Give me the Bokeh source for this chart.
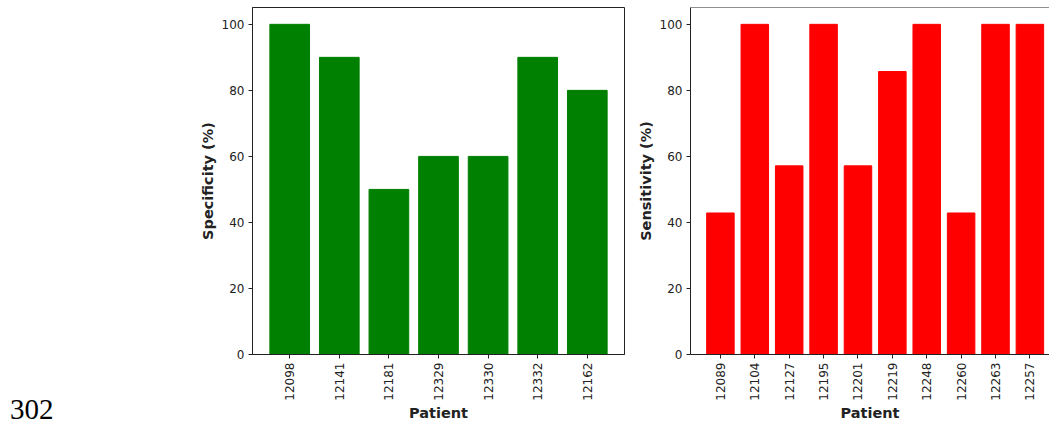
import math

from bokeh.plotting import figure
from bokeh.layouts import row
from bokeh.models import Range1d, FixedTicker, Span, Div
from bokeh.embed import file_html
from bokeh.resources import INLINE

# Per-patient results
spec_patients = ["12098", "12141", "12181", "12329", "12330", "12332", "12162"]
specificity = [100, 90, 50, 60, 60, 90, 80]

sens_patients = ["12089", "12104", "12127", "12195", "12201", "12219",
                 "12248", "12260", "12263", "12257"]
sensitivity = [42.86, 100, 57.14, 100, 57.14, 85.71, 100, 42.86, 100, 100]

y_ticks = [0, 20, 40, 60, 80, 100]
page_number = "302"

FONT = "DejaVu Sans"
INK = "#222222"
H = 423


def style(p, patients, ylabel):
    idx = list(range(len(patients)))
    p.xaxis.ticker = FixedTicker(ticks=idx)
    p.xaxis.major_label_overrides = {i: pid for i, pid in zip(idx, patients)}
    p.xaxis.major_label_orientation = math.pi / 2
    p.yaxis.ticker = FixedTicker(ticks=y_ticks)
    p.xaxis.axis_label = "Patient"
    p.yaxis.axis_label = ylabel
    for ax in (p.xaxis[0], p.yaxis[0]):
        ax.axis_line_color = INK
        ax.major_tick_line_color = INK
        ax.minor_tick_line_color = None
        ax.major_tick_in = 0
        ax.major_tick_out = 4
        ax.major_label_text_font = FONT
        ax.major_label_text_font_size = "12px"
        ax.major_label_text_color = INK
        ax.axis_label_text_font = FONT
        ax.axis_label_text_font_size = "14.5px"
        ax.axis_label_text_font_style = "bold"
        ax.axis_label_text_color = INK
    p.xaxis.major_label_standoff = 4
    p.xaxis.axis_label_standoff = 1
    p.yaxis.major_label_standoff = 4
    p.yaxis.axis_label_standoff = 3
    p.xgrid.visible = False
    p.ygrid.visible = False
    p.background_fill_color = "white"
    p.border_fill_color = "white"


# Margin strip holding the page number
page = Div(text=page_number, width=90, height=28, margin=(395, 0, 0, 10),
           styles={"font-family": "'Liberation Serif', serif",
                   "font-size": "29px", "line-height": "28px",
                   "color": "black", "white-space": "nowrap"})

# Left panel: specificity
p1 = figure(width=530, height=H, output_backend="svg", toolbar_location=None,
            x_range=Range1d(-0.75, 6.75), y_range=Range1d(0, 105.1),
            min_border_left=152, min_border_right=6,
            min_border_top=7, min_border_bottom=68)
p1.vbar(x=list(range(len(spec_patients))), top=specificity, width=0.8,
        fill_color="#008000", line_color="#008000")
style(p1, spec_patients, "Specificity (%)")
p1.outline_line_color = INK
p1.outline_line_alpha = 1.0

# Right panel: sensitivity
p2 = figure(width=419, height=H, output_backend="svg", toolbar_location=None,
            x_range=Range1d(-0.87, 9.57), y_range=Range1d(0, 105.1),
            min_border_left=60, min_border_right=0,
            min_border_top=7, min_border_bottom=68)
p2.vbar(x=list(range(len(sens_patients))), top=sensitivity, width=0.8,
        fill_color="#ff0000", line_color="#ff0000")
style(p2, sens_patients, "Sensitivity (%)")
p2.outline_line_color = None
p2.add_layout(Span(location=105.1, dimension="width", line_color=INK, line_width=1))

layout = row(page, p1, p2)

open("out.html", "w").write(file_html(layout, INLINE))
